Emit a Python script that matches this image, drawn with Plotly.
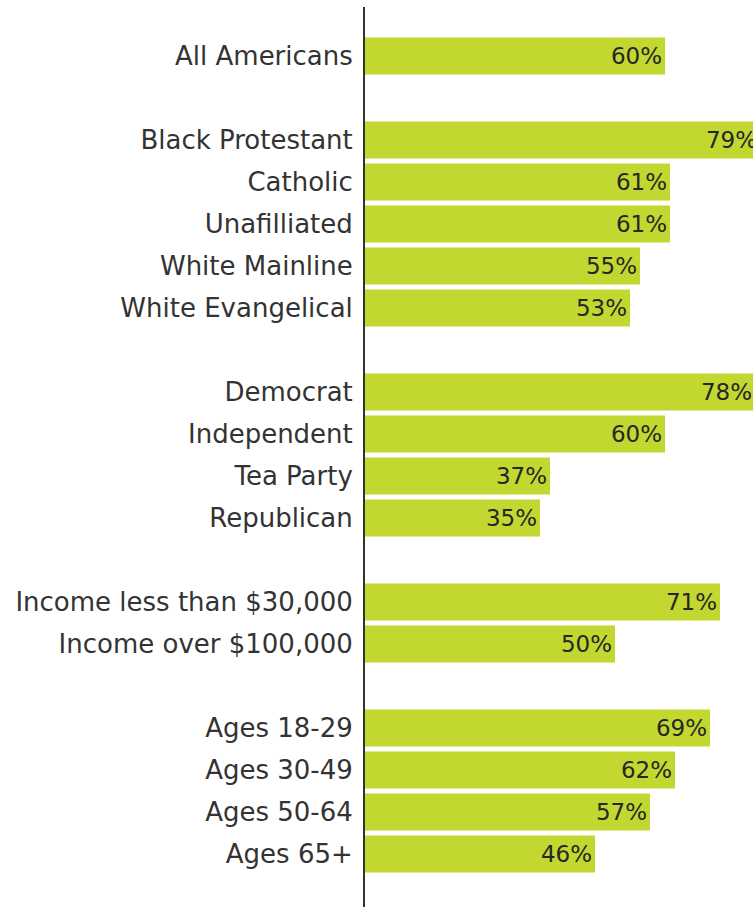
import plotly.graph_objects as go

# Groups of survey respondents; a blank slot separates each group
groups = [
    ["All Americans"],
    ["Black Protestant", "Catholic", "Unafilliated", "White Mainline", "White Evangelical"],
    ["Democrat", "Independent", "Tea Party", "Republican"],
    ["Income less than $30,000", "Income over $100,000"],
    ["Ages 18-29", "Ages 30-49", "Ages 50-64", "Ages 65+"],
]
values = [
    [60],
    [79, 61, 61, 55, 53],
    [78, 60, 37, 35],
    [71, 50],
    [69, 62, 57, 46],
]

labels, vals, pos = [], [], []
slot = 0
for g_labels, g_vals in zip(groups, values):
    for lab, v in zip(g_labels, g_vals):
        labels.append(lab)
        vals.append(v)
        pos.append(slot)
        slot += 1
    slot += 1  # spacer between groups

FONT = "DejaVu Sans"
fig = go.Figure(
    go.Bar(
        x=vals,
        y=pos,
        orientation="h",
        width=0.88,
        marker=dict(color="#C2D72F", line=dict(width=0)),
        text=[f"{v}%" for v in vals],
        textposition="inside",
        insidetextanchor="end",
        constraintext="none",
        textfont=dict(family=FONT, size=23, color="#262626"),
        cliponaxis=True,
    )
)

fig.update_layout(
    width=753,
    height=907,
    margin=dict(l=365, r=0, t=7, b=0),
    paper_bgcolor="white",
    plot_bgcolor="white",
    showlegend=False,
    xaxis=dict(range=[0, 77.6], visible=False, fixedrange=True),
    yaxis=dict(
        range=[20.26, -1.167],
        tickvals=pos,
        ticktext=labels,
        showline=True,
        linecolor="#333333",
        linewidth=2,
        showgrid=False,
        zeroline=False,
        ticks="",
        ticklabelstandoff=5,
        tickfont=dict(family=FONT, size=26, color="#333333"),
    ),
)

fig.write_html("out.html")
